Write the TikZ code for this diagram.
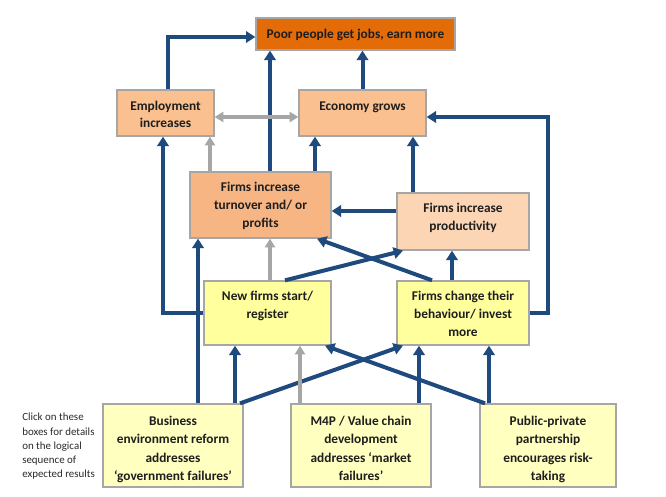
\documentclass[tikz,border=0pt]{standalone}
\usepackage{fontspec}
\setmainfont{Carlito}
\usetikzlibrary{arrows.meta,calc}
\newlength\px \setlength\px{0.75pt}
\definecolor{navy}{HTML}{1F4A7E}
\definecolor{arrgray}{HTML}{A6A6A6}
\definecolor{topfill}{HTML}{E36C09}
\definecolor{midfill}{HTML}{FAC090}
\definecolor{turnfill}{HTML}{F7B584}
\definecolor{prodfill}{HTML}{FCD5B5}
\definecolor{newfill}{HTML}{FFFF9E}
\definecolor{botfill}{HTML}{FFFFC0}
\definecolor{edge}{HTML}{A6A6A6}
\definecolor{ink}{HTML}{1E1E1E}
\definecolor{notegray}{HTML}{2A2A2A}
\newcommand\bxt[5]{\parbox[c][#2\px][t]{#1\px}{\centering\fontsize{10pt}{#4}\selectfont\rule{0pt}{#3\px}#5}}
\begin{document}
\begin{tikzpicture}[x=0.75pt,y=-0.75pt,
  box/.style={draw=edge, line width=1pt, inner sep=0pt, text=ink, font=\bfseries},
  bluearr/.style={draw=navy, line width=3pt, -{Triangle[length=7pt,width=8.5pt]}},
  grayarr/.style={draw=arrgray, line width=2.5pt, -{Triangle[length=6.5pt,width=7.5pt]}},
  graydbl/.style={draw=arrgray, line width=2.5pt, {Triangle[length=6.5pt,width=7.5pt]}-{Triangle[length=6.5pt,width=7.5pt]}}]
\fill[white] (0,0) rectangle (666,496);
\useasboundingbox (0,0) rectangle (666,496);
% boxes
\node[box, fill=topfill] (top) at (355.5,34) {\bxt{199}{32}{20.5}{13.5pt}{Poor people get jobs, earn more}};
\node[box, fill=midfill] (emp) at (165.5,113) {\bxt{97}{46}{20}{13pt}{Employment\\increases}};
\node[box, fill=midfill] (eco) at (362.5,113) {\bxt{127}{46}{20}{13pt}{Economy grows}};
\node[box, fill=turnfill] (turn) at (260.5,205) {\bxt{141}{66}{19.5}{13.5pt}{Firms increase\\turnover and/ or\\profits}};
\node[box, fill=prodfill] (prod) at (463,221.5) {\bxt{132}{57}{19.5}{13.8pt}{Firms increase\\productivity}};
\node[box, fill=newfill] (newf) at (267.5,313) {\bxt{127}{64}{19.5}{13.5pt}{New firms start/\\register}};
\node[box, fill=newfill] (chg) at (463,313) {\bxt{132}{64}{19.5}{13.5pt}{Firms change their\\behaviour/ invest\\more}};
\node[box, fill=botfill] (bus) at (173,445.5) {\bxt{140}{83}{21}{13.9pt}{Business\\environment reform\\addresses\\‘government failures’}};
\node[box, fill=botfill] (m4p) at (361,445.5) {\bxt{140}{83}{21}{13.9pt}{M4P / Value chain\\development\\addresses ‘market\\failures’}};
\node[box, fill=botfill] (ppp) at (548,445.5) {\bxt{136}{83}{21}{13.9pt}{Public-private\\partnership\\encourages risk-\\taking}};
\node[anchor=north west, inner sep=0pt, align=left, text=notegray,
  font=\fontsize{8.2pt}{10.7pt}\selectfont] (note) at (22,413)
  {Click on these\\boxes for details\\on the logical\\sequence of\\expected results};
% connectors
\draw[bluearr] ($(emp.north)+(2.5,0)$) |- ($(top.west)+(0,3)$);
\draw[bluearr] (270,0 |- turn.north) -- (270,0 |- top.south);
\draw[bluearr] (eco.north) -- (eco.north |- top.south);
\draw[graydbl] ($(emp.east)+(0,4)$) -- ($(eco.west)+(0,4)$);
\draw[grayarr] (210,0 |- turn.north) -- (210,0 |- emp.south);
\draw[bluearr] (315,0 |- turn.north) -- (315,0 |- eco.south);
\draw[bluearr] (413,0 |- prod.north) -- (413,0 |- eco.south);
\draw[bluearr] (prod.west |- 0,211) -- (turn.east |- 0,211);
\draw[bluearr] (newf.west) -| (163,0 |- emp.south);
\coordinate (rc) at (548,117);
\draw[bluearr] (chg.east) -| (rc) -- (eco.east |- rc);
\draw[bluearr] (432,0 |- chg.north) -- (317,0 |- turn.south);
\draw[bluearr] (285,0 |- newf.north) -- (403,0 |- prod.south);
\draw[grayarr] (270,0 |- newf.north) -- (270,0 |- turn.south);
\draw[bluearr] (452,0 |- chg.north) -- (452,0 |- prod.south);
\draw[bluearr] (198,0 |- bus.north) -- (198,0 |- turn.south);
\draw[bluearr] (235,0 |- bus.north) -- (235,0 |- newf.south);
\draw[bluearr] (240,0 |- bus.north) -- (403,0 |- chg.south);
\draw[grayarr] (300,0 |- m4p.north) -- (300,0 |- newf.south);
\draw[bluearr] (419,0 |- m4p.north) -- (419,0 |- chg.south);
\draw[bluearr] (485,0 |- ppp.north) -- (325,0 |- newf.south);
\draw[bluearr] (489,0 |- ppp.north) -- (489,0 |- chg.south);
\end{tikzpicture}
\end{document}
